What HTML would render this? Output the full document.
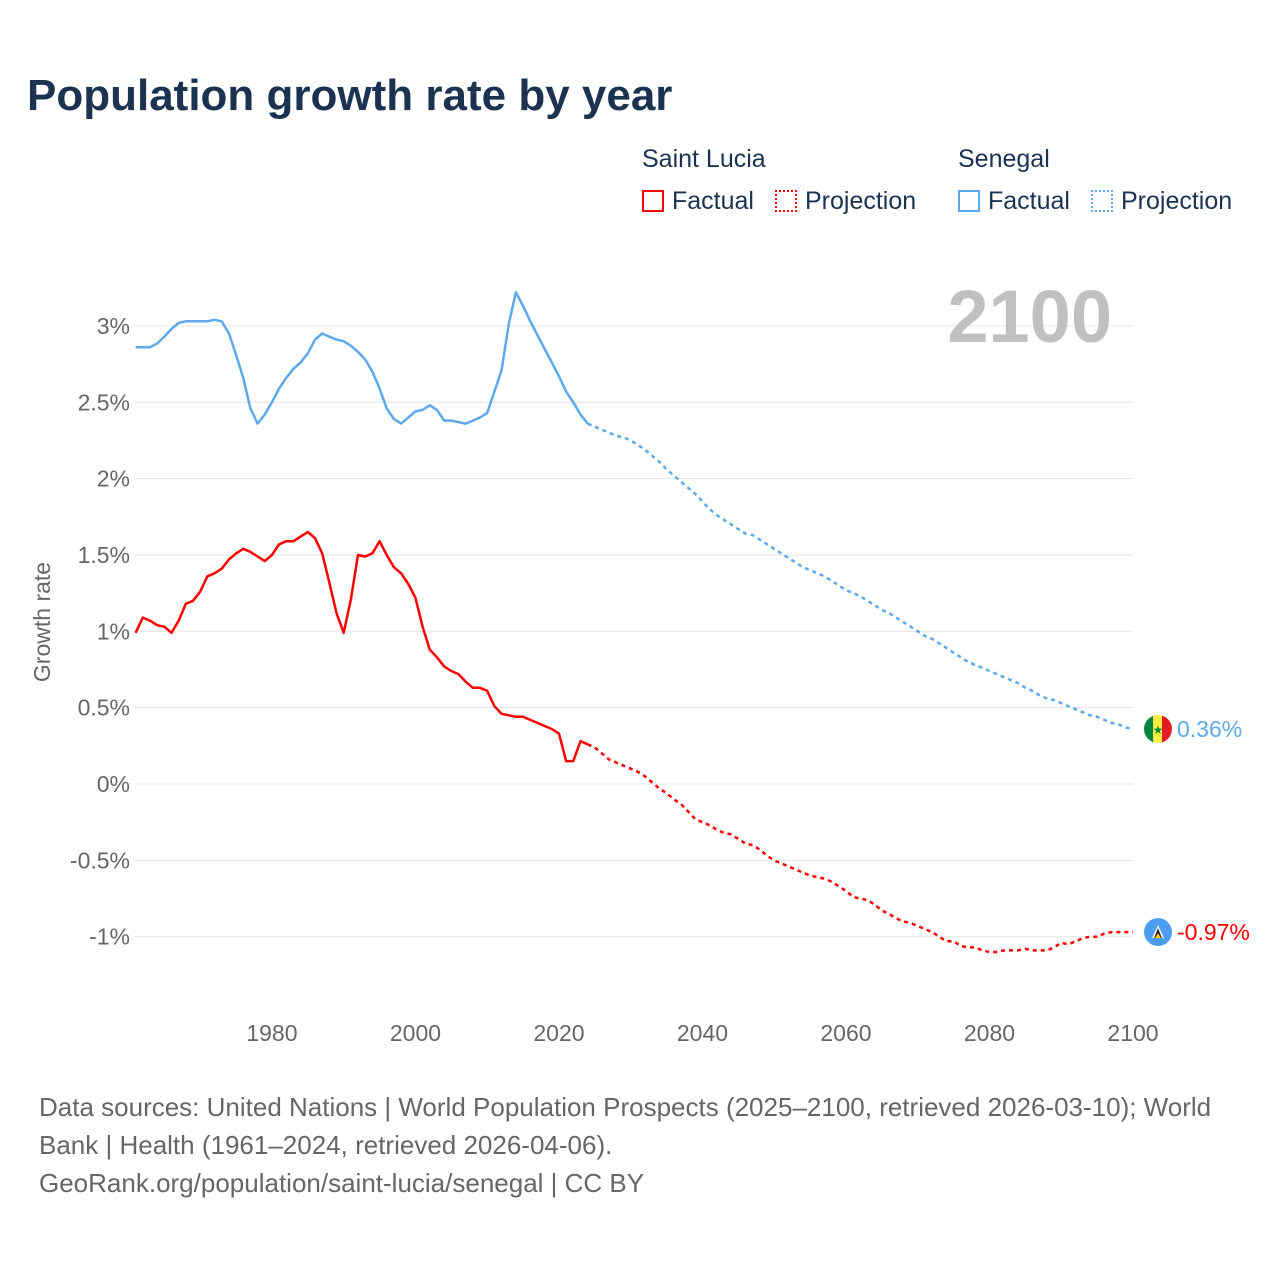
<!DOCTYPE html>
<html><head><meta charset="utf-8">
<style>
body{margin:0;background:#fff;font-family:"Liberation Sans",sans-serif;}
#wrap{position:relative;width:1280px;height:1280px;overflow:hidden;}
.t{position:absolute;white-space:nowrap;}
</style></head>
<body>
<div id="wrap">
<div class="t" style="left:27px;top:71px;font-size:44px;font-weight:bold;color:#1b3350;">Population growth rate by year</div>
<div class="t" style="left:642px;top:145px;font-size:25px;color:#1b3350;">Saint Lucia</div>
<div class="t" style="left:958px;top:145px;font-size:25px;color:#1b3350;">Senegal</div>
<div class="t" style="left:642px;top:187px;font-size:25px;color:#1b3350;"><span style="display:inline-block;width:22px;height:22px;border:2px solid #f00;box-sizing:border-box;vertical-align:-3px;margin-right:8px;"></span>Factual</div>
<div class="t" style="left:775px;top:187px;font-size:25px;color:#1b3350;"><span style="display:inline-block;width:22px;height:22px;border:2px dotted #f00;box-sizing:border-box;vertical-align:-3px;margin-right:8px;"></span>Projection</div>
<div class="t" style="left:958px;top:187px;font-size:25px;color:#1b3350;"><span style="display:inline-block;width:22px;height:22px;border:2px solid #5ea8ec;box-sizing:border-box;vertical-align:-3px;margin-right:8px;"></span>Factual</div>
<div class="t" style="left:1091px;top:187px;font-size:25px;color:#1b3350;"><span style="display:inline-block;width:22px;height:22px;border:2px dotted #5ea8ec;box-sizing:border-box;vertical-align:-3px;margin-right:8px;"></span>Projection</div>
<svg id="chart" width="1280" height="1280" style="position:absolute;left:0;top:0;"></svg>
<div class="t" style="left:39px;top:1088px;font-size:26px;line-height:38px;color:#666;">Data sources: United Nations | World Population Prospects (2025–2100, retrieved 2026-03-10); World<br>Bank | Health (1961–2024, retrieved 2026-04-06).<br>GeoRank.org/population/saint-lucia/senegal | CC BY</div>
</div>
<script>
const slFactual=[0.99,1.09,1.07,1.04,1.03,0.99,1.07,1.18,1.20,1.26,1.36,1.38,1.41,1.47,1.51,1.54,1.52,1.49,1.46,1.50,1.57,1.59,1.59,1.62,1.65,1.61,1.51,1.32,1.12,0.99,1.21,1.50,1.49,1.51,1.59,1.50,1.42,1.38,1.31,1.22,1.03,0.88,0.83,0.77,0.74,0.72,0.67,0.63,0.63,0.61,0.51,0.46,0.45,0.44,0.44,0.42,0.40,0.38,0.36,0.33,0.15,0.15,0.28,0.26];
const snFactual=[2.86,2.86,2.86,2.885,2.93,2.98,3.02,3.03,3.03,3.03,3.03,3.04,3.03,2.95,2.81,2.66,2.46,2.36,2.42,2.50,2.59,2.66,2.72,2.76,2.82,2.91,2.95,2.93,2.91,2.90,2.87,2.83,2.78,2.70,2.59,2.46,2.39,2.36,2.40,2.44,2.45,2.48,2.45,2.38,2.38,2.37,2.36,2.38,2.40,2.43,2.57,2.71,3.01,3.22,3.13,3.03,2.94,2.85,2.76,2.67,2.57,2.50,2.42,2.36];
const snProj=[2.36,2.34,2.32,2.30,2.28,2.27,2.25,2.22,2.19,2.15,2.11,2.06,2.02,1.98,1.94,1.90,1.85,1.80,1.76,1.73,1.70,1.67,1.64,1.63,1.60,1.57,1.54,1.51,1.48,1.45,1.42,1.40,1.38,1.36,1.33,1.30,1.27,1.25,1.23,1.20,1.17,1.14,1.12,1.09,1.06,1.03,1.00,0.97,0.95,0.92,0.89,0.86,0.83,0.80,0.78,0.76,0.74,0.72,0.70,0.68,0.66,0.63,0.61,0.58,0.56,0.55,0.53,0.51,0.49,0.47,0.45,0.44,0.42,0.40,0.39,0.37,0.36];
const slProj=[0.26,0.24,0.20,0.16,0.14,0.12,0.10,0.08,0.05,0.01,-0.03,-0.06,-0.10,-0.13,-0.18,-0.23,-0.25,-0.27,-0.30,-0.32,-0.33,-0.36,-0.39,-0.40,-0.43,-0.47,-0.50,-0.52,-0.54,-0.56,-0.58,-0.60,-0.61,-0.62,-0.64,-0.67,-0.70,-0.74,-0.75,-0.76,-0.79,-0.83,-0.85,-0.88,-0.90,-0.91,-0.93,-0.95,-0.97,-1.00,-1.03,-1.03,-1.06,-1.07,-1.07,-1.09,-1.10,-1.10,-1.09,-1.09,-1.09,-1.08,-1.09,-1.09,-1.09,-1.07,-1.04,-1.05,-1.03,-1.01,-1.00,-1.00,-0.98,-0.97,-0.97,-0.97,-0.97];
const yTicks=[3,2.5,2,1.5,1,0.5,0,-0.5,-1];
const yTickLabels=["3%","2.5%","2%","1.5%","1%","0.5%","0%","-0.5%","-1%"];
const xTicks=[1980,2000,2020,2040,2060,2080,2100];
const factualStart=1961, projStart=2024;
const snEnd="0.36%", slEnd="-0.97%";

const X=y=>135.6+(y-1961)*(1133-135.6)/(2100-1961);
const Y=v=>784-v*152.7;
const svg=document.getElementById('chart');
const NS='http://www.w3.org/2000/svg';
function mk(tag,attrs){const e=document.createElementNS(NS,tag);for(const k in attrs)e.setAttribute(k,attrs[k]);svg.appendChild(e);return e;}
yTicks.forEach((v,i)=>{
  const g=mk('line',{x1:135,x2:1133,y1:Y(v),y2:Y(v),stroke:'#e6e6e6','stroke-width':1});
  
  
  const t=mk('text',{x:130,y:Y(v)+8,'text-anchor':'end','font-size':23,fill:'#666','font-family':'Liberation Sans, sans-serif'});
  t.textContent=yTickLabels[i];
  
  
});
xTicks.forEach(y=>{
  const t=mk('text',{x:X(y),y:1041,'text-anchor':'middle','font-size':23,fill:'#666','font-family':'Liberation Sans, sans-serif'});
  t.textContent=y;
  
  
});
const yt=mk('text',{x:0,y:0,transform:'translate(50,622) rotate(-90)','text-anchor':'middle','font-size':23,fill:'#666','font-family':'Liberation Sans, sans-serif'});
yt.textContent='Growth rate';


const yr=mk('text',{x:1112,y:342,'text-anchor':'end','font-size':74,'font-weight':'bold',fill:'#c0c0c0','font-family':'Liberation Sans, sans-serif'});
yr.textContent='2100';


function line(arr,start,color,dash,name){
  const d=arr.map((v,i)=>(i?'L':'M')+X(start+i).toFixed(1)+' '+Y(v).toFixed(1)).join(' ');
  const p=mk('path',{d:d,fill:'none',stroke:color,'stroke-width':2.5,'stroke-linejoin':'round'});
  if(dash)p.setAttribute('stroke-dasharray','4 4');
  
  
}
line(snFactual,factualStart,'#5ea8ec',false,'senegal-factual-line');
line(snProj,projStart,'#5ea8ec',true,'senegal-projection-line');
line(slFactual,factualStart,'#ff0000',false,'saint-lucia-factual-line');
line(slProj,projStart,'#ff0000',true,'saint-lucia-projection-line');
const sy=Y(snProj[snProj.length-1]);
const sg=document.createElementNS(NS,'g');svg.appendChild(sg);


sg.innerHTML=`<clipPath id="cs"><circle cx="1158" cy="${sy}" r="14"/></clipPath><g clip-path="url(#cs)"><rect x="1144" y="${sy-14}" width="10" height="28" fill="#00853f"/><rect x="1153" y="${sy-14}" width="10" height="28" fill="#fdef42"/><rect x="1162" y="${sy-14}" width="10" height="28" fill="#e31b23"/></g><text x="1158" y="${sy+5}" text-anchor="middle" font-size="12" fill="#00853f">★</text>`;
const st=mk('text',{x:1177,y:sy+8,'font-size':23,fill:'#5ea8ec','font-family':'Liberation Sans, sans-serif'});
st.textContent=snEnd;


const ly=Y(slProj[slProj.length-1]);
const lg=document.createElementNS(NS,'g');svg.appendChild(lg);


lg.innerHTML=`<circle cx="1158" cy="${ly}" r="14" fill="#4c9ff0"/><polygon points="1158,${ly-7} 1164,${ly+6} 1152,${ly+6}" fill="#fff"/><polygon points="1158,${ly-4} 1162,${ly+6} 1154,${ly+6}" fill="#222"/><polygon points="1158,${ly+1} 1161,${ly+6} 1155,${ly+6}" fill="#fcd116"/>`;
const lt=mk('text',{x:1177,y:ly+8,'font-size':23,fill:'#ff0000','font-family':'Liberation Sans, sans-serif'});
lt.textContent=slEnd;


</script>
</body></html>
